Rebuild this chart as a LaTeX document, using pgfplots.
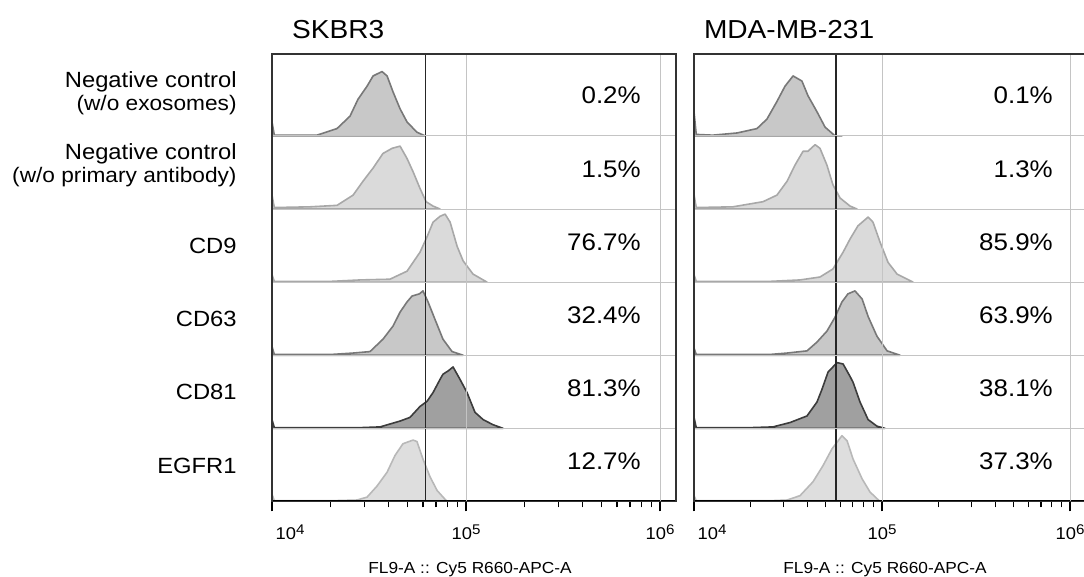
\documentclass[border=0pt]{standalone}
\usepackage{fontspec}
\setmainfont{Liberation Sans}[FakeStretch=1.08]
\usepackage{pgfplots}
\pgfplotsset{compat=1.18}

% fill / outline greys
\definecolor{gridc}{RGB}{196,196,196}
\definecolor{fmid}{RGB}{200,200,200}
\definecolor{lmid}{RGB}{120,120,120}
\definecolor{flight}{RGB}{218,218,218}
\definecolor{llight}{RGB}{168,168,168}
\definecolor{fdark}{RGB}{160,160,160}
\definecolor{ldark}{RGB}{60,60,60}
\definecolor{fpale}{RGB}{222,222,222}
\definecolor{lpale}{RGB}{184,184,184}

\newcommand{\dec}[1]{10\raisebox{0.55ex}{\fontsize{7}{8}\selectfont #1}}

\tikzset{
  pct/.style={anchor=east, inner xsep=0pt, font=\fontsize{12}{14}\selectfont},
  curve/.style={line width=0.8pt, line join=round},
}
\pgfplotsset{
  panel/.style={
    scale only axis, anchor=south west,
    height=223.75pt, xmin=4, ymin=0, ymax=6.12,
    axis on top,
    axis line style={black!80, line width=0.6pt},
    xtick={4,5,6},
    minor xtick={4.301,4.477,4.602,4.699,4.778,4.845,4.903,4.954,
                 5.301,5.477,5.602,5.699,5.778,5.845,5.903,5.954},
    xticklabels={\hspace{18pt}\dec{4},\dec{5},\dec{6}},
    xtick pos=bottom, tick align=outside,
    major tick length=5pt, minor tick length=3pt,
    major x tick style={black, line width=1.2pt},
    minor x tick style={black, line width=0.6pt},
    ytick={1,2,3,4,5}, yticklabels={}, major y tick style={draw=none},
    grid=major, grid style={gridc, line width=0.5pt},
    xticklabel style={font=\fontsize{8.5}{9}\selectfont, anchor=base, yshift=-14pt},
  },
}

\begin{document}
\begin{tikzpicture}
\path[use as bounding box] (0,0) rectangle (542pt,288.5pt);

% ---------------- SKBR3 ----------------
\begin{axis}[panel, at={(136pt,37.75pt)}, width=202pt, xmax=6.082]
  % negative control w/o exosomes
  \addplot[curve, fill=fmid, draw=lmid] coordinates {
    (4.000,5.00)(4.000,5.19)(4.012,5.01)(4.100,5.01)(4.232,5.01)(4.335,5.10)(4.402,5.27)
    (4.443,5.50)(4.490,5.68)(4.521,5.82)(4.567,5.88)(4.593,5.82)(4.624,5.60)
    (4.660,5.37)(4.696,5.19)(4.747,5.05)(4.789,5.00)} -- cycle;
  % negative control w/o primary antibody
  \addplot[curve, fill=flight, draw=llight] coordinates {
    (4.000,4.00)(4.000,4.19)(4.012,4.02)(4.196,4.03)(4.335,4.05)(4.418,4.19)(4.469,4.38)
    (4.521,4.56)(4.572,4.76)(4.619,4.83)(4.660,4.86)(4.696,4.69)(4.727,4.51)
    (4.763,4.28)(4.794,4.10)(4.830,4.04)(4.866,4.00)} -- cycle;
  % CD9
  \addplot[curve, fill=flight, draw=llight] coordinates {
    (4.000,3.00)(4.000,3.10)(4.012,3.01)(4.300,3.01)(4.454,3.03)(4.608,3.04)(4.696,3.15)
    (4.763,3.41)(4.799,3.62)(4.830,3.82)(4.866,3.90)(4.892,3.93)(4.918,3.82)
    (4.954,3.49)(4.985,3.29)(5.036,3.11)(5.108,3.00)} -- cycle;
  % CD63
  \addplot[curve, fill=fmid, draw=lmid] coordinates {
    (4.000,2.00)(4.000,2.12)(4.012,2.01)(4.300,2.01)(4.418,2.03)(4.505,2.05)(4.572,2.22)
    (4.624,2.40)(4.660,2.59)(4.696,2.73)(4.722,2.81)(4.760,2.84)(4.778,2.88)
    (4.804,2.73)(4.840,2.49)(4.881,2.22)(4.928,2.05)(4.985,2.00)} -- cycle;
  % CD81
  \addplot[curve, fill=fdark, draw=ldark] coordinates {
    (4.000,1.00)(4.000,1.12)(4.012,1.01)(4.350,1.01)(4.454,1.01)(4.557,1.02)(4.660,1.10)
    (4.711,1.15)(4.763,1.30)(4.799,1.37)(4.830,1.49)(4.866,1.67)(4.881,1.74)
    (4.910,1.79)(4.933,1.84)(4.969,1.67)(5.005,1.49)(5.046,1.22)(5.088,1.12)
    (5.139,1.05)(5.191,1.00)} -- cycle;
  % EGFR1
  \addplot[curve, fill=fpale, draw=lpale] coordinates {
    (4.000,0.00)(4.000,0.10)(4.012,0.01)(4.300,0.01)(4.438,0.02)(4.490,0.06)(4.541,0.21)
    (4.593,0.40)(4.634,0.63)(4.675,0.79)(4.727,0.84)(4.747,0.82)(4.778,0.58)
    (4.814,0.34)(4.851,0.15)(4.902,0.00)} -- cycle;
  \draw[black!85, line width=0.8pt] (axis cs:4.792,0) -- (axis cs:4.792,6.12);
  \draw[black, line width=1.1pt] (rel axis cs:0,0) -- (rel axis cs:1,0);
  \node[pct] at (axis cs:5.902,5.55) {0.2\%};
  \node[pct] at (axis cs:5.902,4.55) {1.5\%};
  \node[pct] at (axis cs:5.902,3.55) {76.7\%};
  \node[pct] at (axis cs:5.902,2.55) {32.4\%};
  \node[pct] at (axis cs:5.902,1.55) {81.3\%};
  \node[pct] at (axis cs:5.902,0.55) {12.7\%};
\end{axis}

% ---------------- MDA-MB-231 ----------------
\begin{axis}[panel, at={(347pt,37.75pt)}, width=198pt, xmax=6.106]
  \addplot[curve, fill=fmid, draw=lmid] coordinates {
    (4.000,5.00)(4.000,5.33)(4.012,5.02)(4.100,5.01)(4.229,5.04)(4.335,5.10)(4.388,5.23)
    (4.441,5.47)(4.484,5.68)(4.527,5.82)(4.574,5.75)(4.606,5.55)(4.654,5.33)
    (4.697,5.12)(4.750,5.00)(4.787,5.00)} -- cycle;
  \addplot[curve, fill=flight, draw=llight] coordinates {
    (4.000,4.00)(4.000,4.20)(4.012,4.02)(4.207,4.03)(4.367,4.10)(4.441,4.19)(4.495,4.38)
    (4.537,4.60)(4.580,4.79)(4.606,4.79)(4.644,4.88)(4.670,4.83)(4.707,4.60)
    (4.739,4.33)(4.777,4.15)(4.830,4.04)(4.867,4.00)} -- cycle;
  \addplot[curve, fill=flight, draw=llight] coordinates {
    (4.000,3.00)(4.000,3.10)(4.012,3.01)(4.400,3.01)(4.564,3.03)(4.670,3.07)(4.739,3.18)
    (4.793,3.41)(4.830,3.59)(4.872,3.77)(4.926,3.89)(4.952,3.82)(4.989,3.55)
    (5.032,3.27)(5.080,3.11)(5.165,3.00)} -- cycle;
  \addplot[curve, fill=fmid, draw=lmid] coordinates {
    (4.000,2.00)(4.000,2.10)(4.012,2.01)(4.400,2.01)(4.495,2.03)(4.601,2.06)(4.654,2.18)
    (4.707,2.33)(4.750,2.52)(4.787,2.73)(4.819,2.84)(4.856,2.88)(4.894,2.77)
    (4.926,2.53)(4.973,2.26)(5.027,2.06)(5.096,2.00)} -- cycle;
  \addplot[curve, fill=fdark, draw=ldark] coordinates {
    (4.000,1.00)(4.000,1.15)(4.012,1.01)(4.300,1.01)(4.420,1.02)(4.511,1.08)(4.601,1.17)
    (4.654,1.36)(4.680,1.53)(4.713,1.77)(4.761,1.90)(4.793,1.88)(4.830,1.71)
    (4.846,1.63)(4.883,1.36)(4.926,1.12)(4.973,1.03)(5.016,1.00)} -- cycle;
  \addplot[curve, fill=fpale, draw=lpale] coordinates {
    (4.000,0.00)(4.000,0.08)(4.012,0.01)(4.400,0.01)(4.495,0.02)(4.564,0.08)(4.633,0.27)
    (4.686,0.49)(4.734,0.72)(4.787,0.90)(4.814,0.83)(4.846,0.58)(4.894,0.31)
    (4.936,0.13)(4.989,0.00)} -- cycle;
  \draw[black!85, line width=0.8pt] (axis cs:4.755,0) -- (axis cs:4.755,6.12);
  \draw[black, line width=1.1pt] (rel axis cs:0,0) -- (rel axis cs:1,0);
  \node[pct] at (axis cs:5.910,5.55) {0.1\%};
  \node[pct] at (axis cs:5.910,4.55) {1.3\%};
  \node[pct] at (axis cs:5.910,3.55) {85.9\%};
  \node[pct] at (axis cs:5.910,2.55) {63.9\%};
  \node[pct] at (axis cs:5.910,1.55) {38.1\%};
  \node[pct] at (axis cs:5.910,0.55) {37.3\%};
\end{axis}

% titles
\node[anchor=base west, font=\fontsize{13}{15}\selectfont] at (142.5pt,269pt) {SKBR3};
\node[anchor=base west, font=\fontsize{13}{15}\selectfont] at (348.5pt,269pt) {MDA-MB-231};

% row labels
\begin{scope}[every node/.style={anchor=base east, inner xsep=0pt}]
  \node[font=\fontsize{11}{13}\selectfont] at (118.5pt,244.5pt) {Negative control};
  \node[font=\fontsize{10.5}{12}\selectfont] at (118.5pt,233pt) {(w/o exosomes)};
  \node[font=\fontsize{11}{13}\selectfont] at (118.5pt,208.5pt) {Negative control};
  \node[font=\fontsize{10.5}{12}\selectfont] at (118.5pt,197pt) {(w/o primary antibody)};
\end{scope}
\begin{scope}[every node/.style={anchor=east, inner xsep=0pt, font=\fontsize{11}{13}\selectfont}]
  \node at (118.5pt,165.5pt) {CD9};
  \node at (118.5pt,129pt) {CD63};
  \node at (118.5pt,92.5pt) {CD81};
  \node at (118.5pt,55.5pt) {EGFR1};
\end{scope}

% x labels
\node[anchor=base, font=\fontsize{8}{10}\selectfont] at (235pt,1.5pt) {FL9-A :: Cy5 R660-APC-A};
\node[anchor=base, font=\fontsize{8}{10}\selectfont] at (442.5pt,1.5pt) {FL9-A :: Cy5 R660-APC-A};
\end{tikzpicture}
\end{document}
